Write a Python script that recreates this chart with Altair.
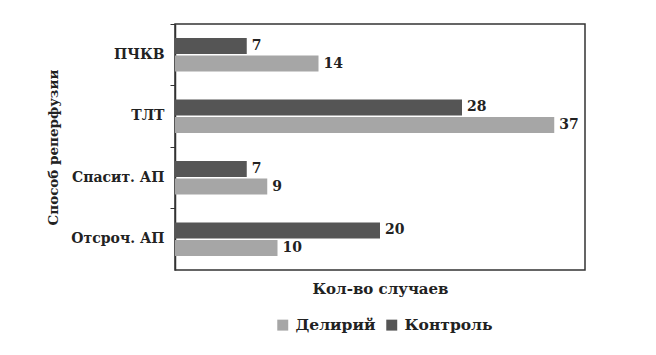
import altair as alt
import pandas as pd

categories = ["ПЧКВ", "ТЛТ", "Спасит. АП", "Отсроч. АП"]
series = ["Делирий", "Контроль"]
delirium = [14, 37, 9, 10]
control = [7, 28, 7, 20]

rows = []
for c, d, k in zip(categories, delirium, control):
    rows.append({"cat": c, "group": "Контроль", "value": k})
    rows.append({"cat": c, "group": "Делирий", "value": d})
df = pd.DataFrame(rows)

FONT = "DejaVu Serif"

y_enc = alt.Y(
    "cat:N",
    sort=categories,
    scale=alt.Scale(paddingInner=0, paddingOuter=0),
    axis=alt.Axis(
        title="Способ реперфузии",
        titleFont=FONT, titleFontSize=13.5, titleFontWeight="bold", titleColor="#222",
        titleAngle=-90, titleX=-122, titleY=123, titleAlign="center", titleBaseline="middle",
        labelFont=FONT, labelFontSize=14, labelFontWeight="bold", labelColor="#222",
        labelPadding=6, tickSize=5, tickColor="#333", domainColor="#333", domainWidth=1.5,
        bandPosition=0, grid=False,
    ),
)
x_enc = alt.X(
    "value:Q",
    scale=alt.Scale(domain=[0, 40], nice=False),
    axis=alt.Axis(
        title="Кол-во случаев", labels=False, ticks=False, domain=False, grid=False,
        titleFont=FONT, titleFontSize=15, titleFontWeight="bold", titleColor="#222",
        titlePadding=11,
    ),
)
yoff = alt.YOffset(
    "group:N", sort=["Контроль", "Делирий"],
    scale=alt.Scale(paddingInner=0.09, paddingOuter=0.8),
)

bars = alt.Chart(df).mark_bar().encode(
    x=x_enc, y=y_enc, yOffset=yoff,
    color=alt.Color(
        "group:N",
        scale=alt.Scale(domain=series, range=["#a6a6a6", "#555555"]),
        legend=alt.Legend(
            title=None, orient="none", direction="horizontal", legendX=100, legendY=293,
            labelFont=FONT, labelFontSize=15.5, labelFontWeight="bold", labelColor="#222",
            symbolType="square", symbolSize=120, symbolStrokeWidth=0, columnPadding=8,
            labelOffset=5,
        ),
    ),
)
labels = alt.Chart(df).mark_text(
    align="left", baseline="middle", dx=5, font=FONT, fontSize=14, fontWeight="bold", color="#222"
).encode(x="value:Q", y=alt.Y("cat:N", sort=categories), yOffset=yoff, text="value:Q")

chart = (bars + labels).properties(
    width=410, height=246,
    autosize=alt.AutoSizeParams(type="none"),
    padding={"left": 167, "top": 16, "right": 50, "bottom": 70},
).configure_view(stroke="#333", strokeWidth=1.5)

chart.save("out.html", embed_options={"renderer": "svg", "actions": False})
